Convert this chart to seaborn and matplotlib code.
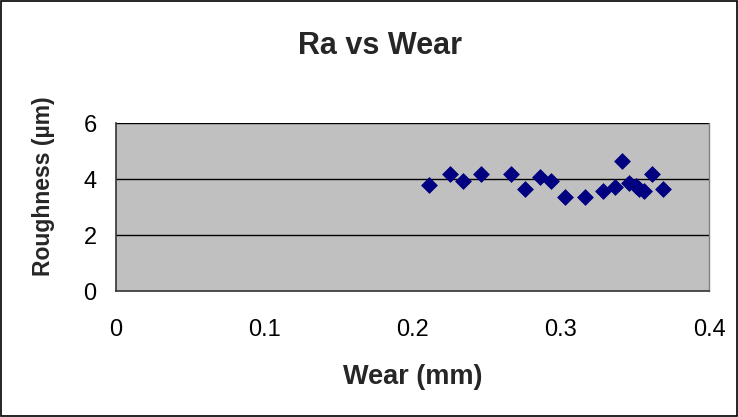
import matplotlib
matplotlib.use("Agg")
import matplotlib.pyplot as plt
import seaborn as sns
import pandas as pd
from matplotlib.patches import Rectangle

wear = [0.2108, 0.2254, 0.2338, 0.2462, 0.2664, 0.2757, 0.2863, 0.2935,
        0.3027, 0.3163, 0.3284, 0.3364, 0.3410, 0.3463, 0.3508, 0.3530,
        0.3563, 0.3613, 0.3690]
roughness = [3.79, 4.17, 3.93, 4.17, 4.17, 3.64, 4.08, 3.93,
             3.36, 3.36, 3.57, 3.71, 4.64, 3.87, 3.75, 3.66,
             3.57, 4.17, 3.64]

df = pd.DataFrame({"Wear (mm)": wear, "Roughness (µm)": roughness})

sns.set_style("white")
plt.rcParams['font.family'] = ['Liberation Sans', 'DejaVu Sans']

fig = plt.figure(figsize=(7.38, 4.17), dpi=100)
ax = fig.add_axes([116/738, 1-291/417, (709-116)/738, (291-123)/417])
ax.set_facecolor('#C0C0C0')

for yv in [2, 4, 6]:
    ax.axhline(yv, color='black', lw=1, zorder=1)

sns.scatterplot(data=df, x="Wear (mm)", y="Roughness (µm)", ax=ax,
                marker='D', s=65, color='#000080', edgecolor='#000080',
                linewidth=0.5, zorder=3, clip_on=False)

ax.set_xlim(0, 0.4)
ax.set_ylim(0, 6)
ax.set_xticks([0, 0.1, 0.2, 0.3, 0.4])
ax.set_xticklabels(['0', '0.1', '0.2', '0.3', '0.4'])
ax.set_yticks([0, 2, 4, 6])
ax.tick_params(axis='both', direction='out', length=6, width=1,
               color='#333333', labelsize=17, labelcolor='black')
ax.tick_params(axis='x', pad=14)
ax.tick_params(axis='y', pad=8)

for side in ['left', 'bottom']:
    ax.spines[side].set_color('#333333')
    ax.spines[side].set_linewidth(1.2)
ax.spines['right'].set_color('#808080')
ax.spines['right'].set_linewidth(1)
ax.spines['top'].set_visible(False)

ax.set_xlabel("Wear (mm)", fontsize=19.5, fontweight='bold', va='baseline')
ax.set_ylabel("Roughness (µm)", fontsize=16.5, fontweight='bold', va='center')
ax.xaxis.set_label_coords(0.5, (291-384)/168)
ax.yaxis.set_label_coords((44-116)/593, (291-186)/168)

fig.text(380/738, 1-54.5/417, "Ra vs Wear", fontsize=22, fontweight='bold',
         ha='center', va='baseline')

fig.patches.append(Rectangle((0.002, 0.003), 0.996, 0.994, transform=fig.transFigure,
                             fill=False, edgecolor='black', linewidth=1.2))

fig.savefig("out.png", dpi=100)
